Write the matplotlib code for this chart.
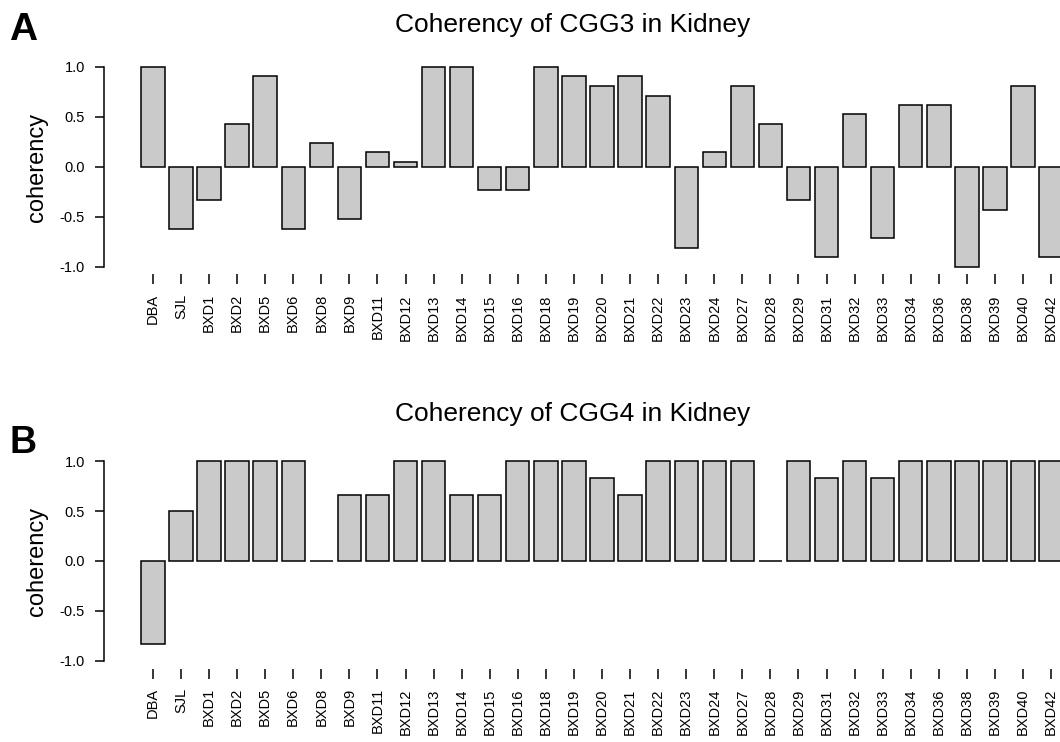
import numpy as np
import matplotlib
matplotlib.use('Agg')
import matplotlib.pyplot as plt

plt.rcParams['font.family'] = ['Liberation Sans', 'DejaVu Sans']

# strains on the x axis
strains = ['DBA', 'SJL', 'BXD1', 'BXD2', 'BXD5', 'BXD6', 'BXD8', 'BXD9', 'BXD11',
           'BXD12', 'BXD13', 'BXD14', 'BXD15', 'BXD16', 'BXD18', 'BXD19', 'BXD20',
           'BXD21', 'BXD22', 'BXD23', 'BXD24', 'BXD27', 'BXD28', 'BXD29', 'BXD31',
           'BXD32', 'BXD33', 'BXD34', 'BXD36', 'BXD38', 'BXD39', 'BXD40', 'BXD42']

# coherency of CGG3 (panel A)
cgg3 = [1.0, -0.619, -0.333, 0.429, 0.905, -0.619, 0.238, -0.524, 0.143,
        0.048, 1.0, 1.0, -0.238, -0.238, 1.0, 0.905, 0.810,
        0.905, 0.714, -0.810, 0.143, 0.810, 0.429, -0.333, -0.905,
        0.524, -0.714, 0.619, 0.619, -1.0, -0.429, 0.810, -0.905]

# coherency of CGG4 (panel B)
cgg4 = [-0.833, 0.5, 1.0, 1.0, 1.0, 1.0, 0.0, 0.667, 0.667,
        1.0, 1.0, 0.667, 0.667, 1.0, 1.0, 1.0, 0.833,
        0.667, 1.0, 1.0, 1.0, 1.0, 0.0, 1.0, 0.833,
        1.0, 0.833, 1.0, 1.0, 1.0, 1.0, 1.0, 1.0]

yticks = [-1.0, -0.5, 0.0, 0.5, 1.0]

W, H = 1060, 742
fig = plt.figure(figsize=(W / 100, H / 100), dpi=100)

# R barplot style positions: width 1, space 0.2
pos = 0.7 + 1.2 * np.arange(len(strains))


def px_axes(left, top, right, bottom):
    return fig.add_axes([left / W, 1 - bottom / H, (right - left) / W, (bottom - top) / H])


def panel(ax, vals):
    ax.bar(pos, vals, width=1.0, color='#cacaca', edgecolor='black', linewidth=1.1)
    ax.set_xlim(-1.412, 39.48)
    ax.set_ylim(-1.08, 1.08)
    for s in ['top', 'right', 'bottom']:
        ax.spines[s].set_visible(False)
    ax.spines['left'].set_bounds(-1, 1)
    ax.spines['left'].set_linewidth(1.1)
    ax.set_yticks(yticks)
    ax.set_yticklabels(['%.1f' % v for v in yticks], fontsize=10.5)
    ax.set_xticks(pos)
    ax.set_xticklabels(strains, rotation=90, fontsize=10.5)
    ax.tick_params(axis='y', length=6.5, width=1.1, pad=7)
    ax.tick_params(axis='x', length=7.2, width=1.1, pad=7)
    ax.patch.set_visible(False)


axA = px_axes(103.5, 59, 1060, 274.5)
panel(axA, cgg3)
axB = px_axes(103.5, 453.5, 1060, 668.5)
panel(axB, cgg4)

# titles, y labels and panel letters
fig.text(573 / W, 1 - 32 / H, 'Coherency of CGG3 in Kidney', ha='center', va='baseline', fontsize=19)
fig.text(573 / W, 1 - 421 / H, 'Coherency of CGG4 in Kidney', ha='center', va='baseline', fontsize=19)
fig.text(37 / W, 1 - 167 / H, 'coherency', rotation=90, ha='center', va='center', fontsize=17)
fig.text(37 / W, 1 - 561 / H, 'coherency', rotation=90, ha='center', va='center', fontsize=17)
fig.text(9 / W, 1 - 40 / H, 'A', fontsize=28, fontweight='bold', ha='left', va='baseline')
fig.text(9 / W, 1 - 453 / H, 'B', fontsize=27, fontweight='bold', ha='left', va='baseline')

fig.savefig('out.png', dpi=100)
